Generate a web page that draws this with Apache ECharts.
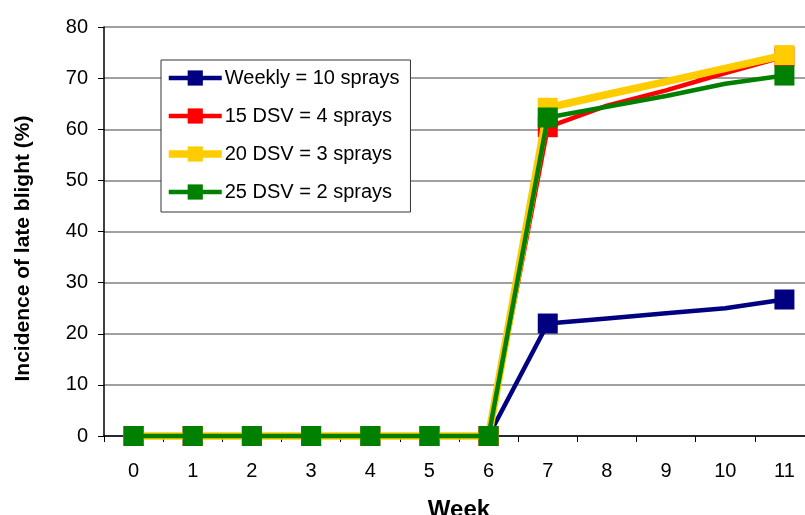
<!DOCTYPE html>
<html>
<head>
<meta charset="utf-8">
<script src="https://cdn.jsdelivr.net/npm/echarts@6/dist/echarts.min.js"></script>
<style>
html,body{margin:0;padding:0;background:#fff;overflow:hidden;}
#chart{width:805px;height:515px;}
</style>
</head>
<body>
<div id="chart"></div>
<script>
var weeks = ['0','1','2','3','4','5','6','7','8','9','10','11'];
var markedWeeks = [0,1,2,3,4,5,6,7,11];
var seriesNames = ['Weekly = 10 sprays','15 DSV = 4 sprays','20 DSV = 3 sprays','25 DSV = 2 sprays'];
var weekly = [0,0,0,0,0,0,0,22,23,24,25,26.7];
var dsv15  = [0,0,0,0,0,0,0,60.4,64.6,67.6,71,74.2];
var dsv20  = [0,0,0,0,0,0,0,64.2,66.8,69.3,71.9,74.5];
var dsv25  = [0,0,0,0,0,0,0,62.3,64.4,66.5,68.9,70.5];
var yTicks = [0,10,20,30,40,50,60,70,80];

var colors = ['#000080','#FF0000','#FFCC00','#008000'];
var widths = [4.5,4.5,7.5,4.5];
var allData = [weekly, dsv15, dsv20, dsv25];

function buildData(arr){
  return arr.map(function(v,i){
    return markedWeeks.indexOf(i) >= 0 ? {value:v} : {value:v, symbol:'none'};
  });
}

var chart = echarts.init(document.getElementById('chart'));
var font = 'Liberation Sans, Arial, sans-serif';
chart.setOption({
  animation:false,
  backgroundColor:'#fff',
  grid:{left:104, top:27, width:710, height:409, containLabel:false, outerBoundsMode:'none'},
  legend:{
    orient:'vertical',
    left:161, top:60,
    data:seriesNames.map(function(n,k){
      return {name:n, lineStyle:{width:widths[k]}};
    }),
    backgroundColor:'#fff',
    borderColor:'#333',
    borderWidth:1,
    borderRadius:0,
    padding:[8,11,10,4],
    itemGap:18,
    itemWidth:53,
    itemHeight:19,
    textStyle:{fontFamily:font, fontSize:20, color:'#000', padding:[0,0,0,-2]}
  },
  xAxis:{
    type:'category',
    data:weeks,
    boundaryGap:true,
    name:'Week',
    nameLocation:'middle',
    nameGap:62,
    nameTextStyle:{fontFamily:font, fontSize:24, fontWeight:'bold', color:'#000'},
    axisLine:{lineStyle:{color:'#000', width:1.5}},
    axisTick:{show:true, alignWithLabel:false, length:6, lineStyle:{color:'#000'}},
    axisLabel:{fontFamily:font, fontSize:20, color:'#000', margin:25},
    splitLine:{show:false}
  },
  yAxis:{
    type:'value',
    min:0, max:80, interval:10,
    name:'Incidence of late blight (%)',
    nameLocation:'middle',
    nameGap:70,
    nameTextStyle:{fontFamily:font, fontSize:21, fontWeight:'bold', color:'#000', padding:[0,34,0,0]},
    axisLine:{show:true, lineStyle:{color:'#000', width:1.5}},
    axisTick:{show:true, length:6, lineStyle:{color:'#000'}},
    axisLabel:{fontFamily:font, fontSize:20, color:'#000', margin:16,
      formatter:function(v){ return yTicks.indexOf(v)>=0 ? String(v) : ''; }},
    splitLine:{show:true, lineStyle:{color:'#808080', width:1.5}}
  },
  series: allData.map(function(arr, k){
    return {
      name:seriesNames[k],
      type:'line',
      data:buildData(arr),
      symbol:'rect',
      symbolSize:20,
      showSymbol:true,
      clip:false,
      z:2+k,
      itemStyle:{color:colors[k]},
      lineStyle:{color:colors[k], width:widths[k]}
    };
  })
});
</script>
</body>
</html>
